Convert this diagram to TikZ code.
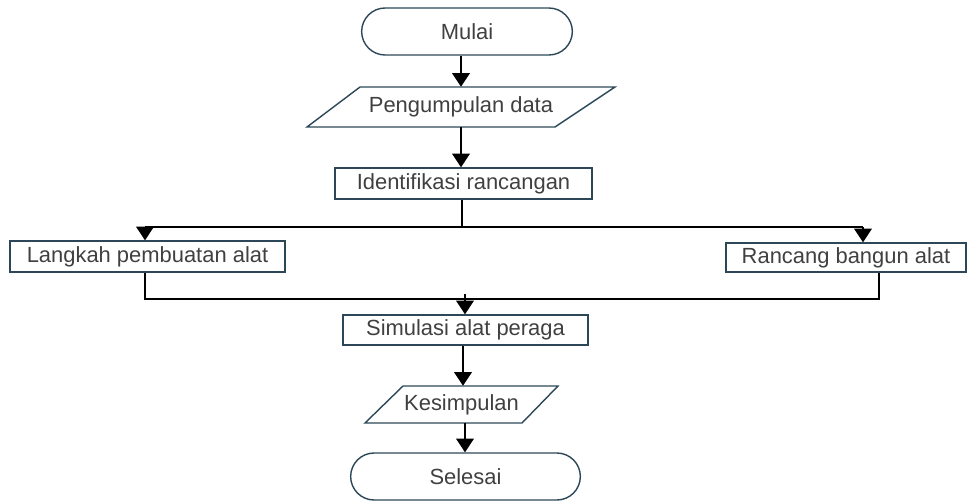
\documentclass[tikz,border=0pt]{standalone}
\usepackage{fontspec}
\setmainfont{Liberation Sans}
\definecolor{flowEdge}{RGB}{44,72,88}
\definecolor{flowText}{RGB}{64,64,64}
\usetikzlibrary{arrows.meta,shapes.misc}

\begin{document}
\begin{tikzpicture}[x=0.025cm, y=-0.025cm,
  term/.style={draw=flowEdge, line width=1pt, rounded rectangle,
               minimum height=1.175cm, text=flowText, font=\fontsize{15.6}{18}\selectfont},
  box/.style={draw=flowEdge, line width=1pt, rectangle, inner sep=0pt,
              text=flowText, font=\fontsize{15.6}{18}\selectfont},
  iobox/.style={inner sep=0pt, minimum height=1cm, text=flowText,
                font=\fontsize{15.6}{18}\selectfont},
  io/.style={draw=flowEdge, line width=1pt, line join=miter},
  arr/.style={-{Triangle[width=0.44cm,length=0.34cm]}, line width=1.2pt, black},
  line/.style={line width=1.2pt, black}
]
  \useasboundingbox (0,0) rectangle (968,501);

  \node[term, minimum width=5.5cm]                    (mulai)   at (467,31.5)  {Mulai};
  \node[iobox]                                        (data)    at (461,107)   {Pengumpulan data};
  \draw[io] (307,127) -- (360,87) -- (615,87) -- (555,127) -- cycle;
  \node[box, minimum width=6.425cm, minimum height=0.775cm] (ident)   at (463.5,183.5) {Identifikasi rancangan};
  \node[box, minimum width=6.875cm, minimum height=0.775cm] (langkah) at (147.5,256.5) {Langkah pembuatan alat};
  \node[box, minimum width=6cm, minimum height=0.725cm]     (rancang) at (846,257.5)   {Rancang bangun alat};
  \node[box, minimum width=6.125cm, minimum height=0.75cm]  (simulasi) at (465.5,330) {Simulasi alat peraga};
  \node[iobox, minimum height=0.925cm]                (simpul)  at (461.5,404.5) {Kesimpulan};
  \draw[io] (365,423) -- (403,386) -- (558,386) -- (522,423) -- cycle;
  \node[term, minimum width=5.975cm]                  (selesai) at (465.5,476.5) {Selesai};

  % percabangan
  \coordinate (split) at (462,227);
  \coordinate (kiri)  at (145,227);
  \coordinate (kanan) at (863,227);
  \coordinate (gabung) at (465,294);
  \coordinate (bawahKiri)  at (145,299);
  \coordinate (bawahKanan) at (879,299);

  \draw[arr] (mulai.south -| data.north) -- (data.north);
  \draw[arr] (data.south) -- (data.south |- ident.north);
  \draw[line] (split |- ident.south) -- (split);
  \draw[line] (kiri) -- (kanan);
  \draw[arr] (kiri) -- (kiri |- langkah.north);
  \draw[arr] (kanan) -- (kanan |- rancang.north);
  \draw[line] (bawahKiri |- langkah.south) -- (bawahKiri) -- (bawahKanan) -- (bawahKanan |- rancang.south);
  \draw[arr] (gabung) -- (gabung |- simulasi.north);
  \draw[arr] (simulasi.south -| 463,0) -- (463,0 |- simpul.north);
  \draw[arr] (simpul.south -| 465,0) -- (465,0 |- selesai.north);
\end{tikzpicture}
\end{document}
